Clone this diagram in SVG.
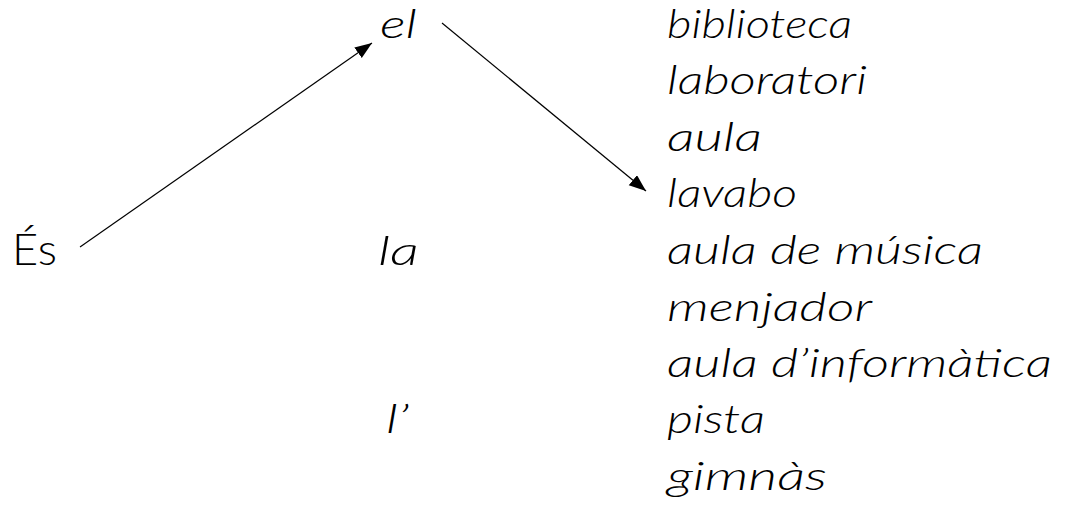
<svg xmlns="http://www.w3.org/2000/svg" width="1081" height="507" viewBox="0 0 1081 507">
  <style>
    .w { font-family: "Lato", "Open Sans", "Liberation Serif", sans-serif; font-style: italic; font-weight: 300; font-size: 40px; fill: #000; }
    .s { font-family: "Lato", "DejaVu Sans", sans-serif; font-weight: 300; font-size: 44px; fill: #000; }
    .c { stroke: #000; stroke-width: 1.2; fill: none; }
  </style>
  <defs>
    <marker id="ah" markerUnits="userSpaceOnUse" markerWidth="18" markerHeight="14" refX="17" refY="6.5" orient="auto">
      <path d="M0,0 L17,6.5 L0,13 z" fill="#000"/>
    </marker>
  </defs>
  <rect width="1081" height="507" fill="#fff"/>
  <g id="connectors">
    <line class="c" x1="80" y1="247" x2="372" y2="43" marker-end="url(#ah)"/>
    <line class="c" x1="442" y1="23" x2="646" y2="191" marker-end="url(#ah)"/>
  </g>
  <g id="es"><text class="s" x="12" y="265" textLength="45" lengthAdjust="spacingAndGlyphs">És</text></g>
  <g id="el"><text class="w" x="380" y="38" textLength="37" lengthAdjust="spacingAndGlyphs">el</text></g>
  <g id="la"><text class="w" x="378" y="265" textLength="41" lengthAdjust="spacingAndGlyphs">la</text></g>
  <g id="lap"><text class="w" x="386" y="433" textLength="23" lengthAdjust="spacingAndGlyphs">l’</text></g>
  <g id="words">
    <text class="w" x="667" y="38" textLength="185" lengthAdjust="spacingAndGlyphs">biblioteca</text>
    <text class="w" x="667" y="94" textLength="200" lengthAdjust="spacingAndGlyphs">laboratori</text>
    <text class="w" x="667" y="151" textLength="95" lengthAdjust="spacingAndGlyphs">aula</text>
    <text class="w" x="667" y="207" textLength="130" lengthAdjust="spacingAndGlyphs">lavabo</text>
    <text class="w" x="667" y="264" textLength="316" lengthAdjust="spacingAndGlyphs">aula de música</text>
    <text class="w" x="667" y="321" textLength="205" lengthAdjust="spacingAndGlyphs">menjador</text>
    <text class="w" x="667" y="377" textLength="385" lengthAdjust="spacingAndGlyphs">aula d’informàtica</text>
    <text class="w" x="667" y="433" textLength="98" lengthAdjust="spacingAndGlyphs">pista</text>
    <text class="w" x="667" y="490" textLength="160" lengthAdjust="spacingAndGlyphs">gimnàs</text>
  </g>
</svg>
